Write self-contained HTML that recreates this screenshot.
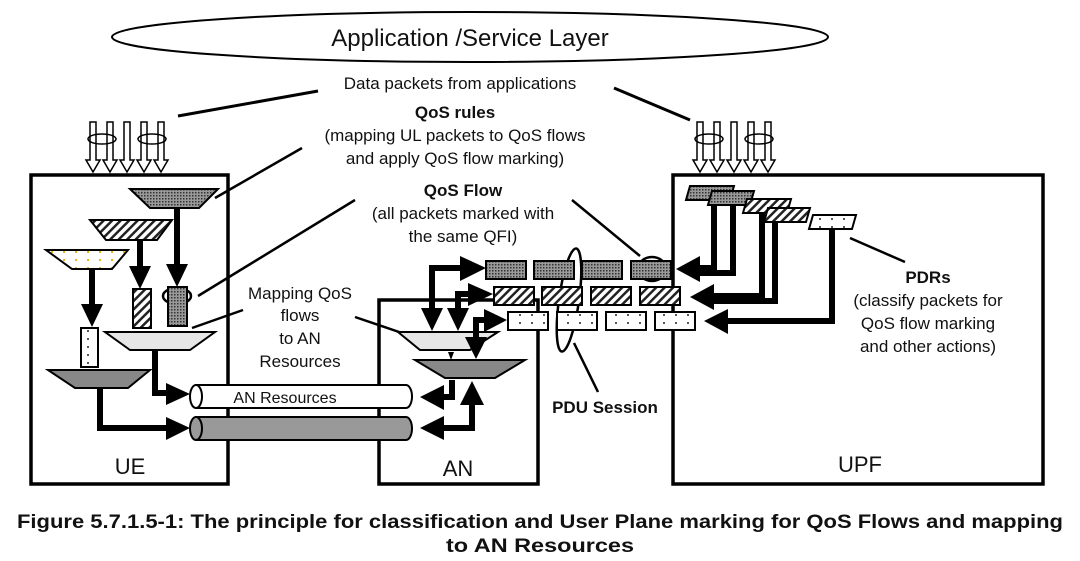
<!DOCTYPE html>
<html><head><meta charset="utf-8"><style>
html,body{margin:0;padding:0;background:#fff;}
svg{display:block;}
text{font-family:"Liberation Sans",sans-serif;fill:#111;}
</style></head><body>
<svg width="1080" height="561" viewBox="0 0 1080 561" xmlns="http://www.w3.org/2000/svg">
<defs>
<pattern id="dk" width="3" height="3" patternUnits="userSpaceOnUse"><rect width="3" height="3" fill="#999"/><rect width="1.5" height="1.5" fill="#333"/></pattern>
<pattern id="hz" width="6" height="6" patternUnits="userSpaceOnUse" patternTransform="rotate(45)"><rect width="6" height="6" fill="#fff"/><rect width="2.5" height="6" fill="#222"/></pattern>
<pattern id="dt" width="12" height="8" patternUnits="userSpaceOnUse"><rect width="12" height="8" fill="#fff"/><circle cx="4" cy="3" r="1" fill="#222"/></pattern>
<pattern id="dy" width="12" height="8" patternUnits="userSpaceOnUse"><rect width="12" height="8" fill="#fff"/><circle cx="4" cy="4" r="1.1" fill="#e0b000"/></pattern>
<marker id="ah" markerWidth="4" markerHeight="4" refX="2" refY="2" orient="auto" markerUnits="strokeWidth"><path d="M0,0 L4,2 L0,4 Z" fill="#000"/></marker>
<g id="bundle" fill="#fff" stroke="#000" stroke-width="1.5">
 <path d="M0,0 h6 v38 h4 l-7,12 l-7,-12 h4 z"/>
 <path d="M17,0 h6 v38 h4 l-7,12 l-7,-12 h4 z"/>
 <path d="M34,0 h6 v38 h4 l-7,12 l-7,-12 h4 z"/>
 <path d="M51,0 h6 v38 h4 l-7,12 l-7,-12 h4 z"/>
 <path d="M68,0 h6 v38 h4 l-7,12 l-7,-12 h4 z"/>
 <ellipse cx="12" cy="17" rx="14" ry="5" fill="none"/>
 <ellipse cx="62" cy="17" rx="14" ry="5" fill="none"/>
</g>
</defs>

<!-- top ellipse -->
<ellipse cx="470" cy="37" rx="358" ry="25" fill="#fff" stroke="#000" stroke-width="2"/>
<text x="470" y="46" font-size="24" text-anchor="middle">Application /Service Layer</text>
<text x="460" y="89" font-size="17" text-anchor="middle">Data packets from applications</text>
<line x1="318" y1="91" x2="178" y2="116" stroke="#000" stroke-width="3"/>
<line x1="614" y1="88" x2="690" y2="120" stroke="#000" stroke-width="3"/>

<use href="#bundle" x="90" y="122"/>
<use href="#bundle" x="697" y="122"/>

<!-- boxes -->
<rect x="31" y="175" width="197" height="309" fill="none" stroke="#000" stroke-width="3.5"/>
<rect x="379" y="300" width="159" height="184" fill="none" stroke="#000" stroke-width="3.5"/>
<rect x="673" y="175" width="370" height="309" fill="none" stroke="#000" stroke-width="3.5"/>

<text x="130" y="474" font-size="22" text-anchor="middle">UE</text>
<text x="458" y="476" font-size="22" text-anchor="middle">AN</text>
<text x="860" y="472" font-size="22" text-anchor="middle">UPF</text>

<!-- labels -->
<text x="455" y="118" font-size="17" font-weight="bold" text-anchor="middle">QoS rules</text>
<text x="455" y="141" font-size="17" text-anchor="middle">(mapping UL packets to QoS flows</text>
<text x="455" y="164" font-size="17" text-anchor="middle">and apply QoS flow marking)</text>
<text x="463" y="196" font-size="17" font-weight="bold" text-anchor="middle">QoS Flow</text>
<text x="463" y="219" font-size="17" text-anchor="middle">(all packets marked with</text>
<text x="463" y="242" font-size="17" text-anchor="middle">the same QFI)</text>
<text x="300" y="299" font-size="17" text-anchor="middle">Mapping QoS</text>
<text x="300" y="321" font-size="17" text-anchor="middle">flows</text>
<text x="300" y="344" font-size="17" text-anchor="middle">to AN</text>
<text x="300" y="367" font-size="17" text-anchor="middle">Resources</text>
<text x="928" y="283" font-size="17" font-weight="bold" text-anchor="middle">PDRs</text>
<text x="928" y="306" font-size="17" text-anchor="middle">(classify packets for</text>
<text x="928" y="329" font-size="17" text-anchor="middle">QoS flow marking</text>
<text x="928" y="352" font-size="17" text-anchor="middle">and other actions)</text>
<text x="605" y="413" font-size="17" font-weight="bold" text-anchor="middle">PDU Session</text>

<!-- leader lines -->
<g stroke="#000" stroke-width="2.5" fill="none">
<line x1="302" y1="148" x2="215" y2="198"/>
<line x1="355" y1="200" x2="198" y2="296"/>
<ellipse cx="177" cy="296" rx="14" ry="8"/>
<line x1="243" y1="310" x2="192" y2="328"/>
<line x1="355" y1="317" x2="402" y2="333"/>
<line x1="572" y1="200" x2="640" y2="256"/>
<ellipse cx="652" cy="269" rx="14" ry="12"/>
<ellipse cx="569" cy="300" rx="10" ry="52" transform="rotate(8 569 300)"/>
<line x1="574" y1="343" x2="598" y2="392"/>
<line x1="850" y1="238" x2="905" y2="262"/>
</g>

<!-- UE internals -->
<g stroke="#000" stroke-width="2">
<path d="M130,189 H218 L199,208 H150 Z" fill="url(#dk)"/>
<path d="M90,220 H172 L157,240 H106 Z" fill="url(#hz)"/>
<path d="M46,250 H128 L112,269 H72 Z" fill="url(#dy)"/>
<rect x="133" y="289" width="18" height="39" fill="url(#hz)"/>
<rect x="168" y="287" width="19" height="39" fill="url(#dk)"/>
<rect x="81" y="328" width="17" height="39" fill="url(#dt)"/>
<path d="M105,332 H215 L190,350 H130 Z" fill="#e6e6e6"/>
<path d="M48,370 H150 L128,388 H75 Z" fill="#888"/>
</g>
<g stroke="#000" stroke-width="6" fill="none">
<line x1="177" y1="208" x2="177" y2="268" />
<line x1="140" y1="240" x2="140" y2="270"/>
<line x1="92" y1="269" x2="92" y2="308"/>
<path d="M155,350 V393 H170"/>
<path d="M100,388 V428 H170"/>
</g>
<g fill="#000">
<path d="M166,264 H188 L177,287 Z"/>
<path d="M129,266 H151 L140,289 Z"/>
<path d="M81,304 H103 L92,327 Z"/>
<path d="M166,383 V405 L190,394 Z"/>
<path d="M166,417 V440 L190,428 Z"/>
</g>

<!-- tubes -->
<g stroke="#000" stroke-width="2">
<path d="M196,385 H406 A6,11.5 0 0 1 406,408 H196 Z" fill="#fff"/>
<ellipse cx="196" cy="396.5" rx="6" ry="11.5" fill="#fff"/>
<path d="M196,417 H406 A6,11.5 0 0 1 406,440 H196 Z" fill="#999"/>
<ellipse cx="196" cy="428.5" rx="6" ry="11.5" fill="#999"/>
</g>
<text x="285" y="403" font-size="16" text-anchor="middle">AN Resources</text>

<!-- AN internals -->
<g stroke="#000" stroke-width="2">
<path d="M398,332 H498 L470,350 H420 Z" fill="#e6e6e6"/>
<path d="M415,360 H525 L495,378 H445 Z" fill="#888"/>
</g>
<g stroke="#000" stroke-width="6" fill="none">
<path d="M432,312 V268 H462"/>
<path d="M458,312 V294 H470"/>
<path d="M476,340 V320 H486"/>
<path d="M452,380 V397 H440"/>
<path d="M472,400 V428 H440"/>
</g>
<g fill="#000">
<path d="M460,256 V281 L486,268 Z"/>
<path d="M468,283 V306 L493,294 Z"/>
<path d="M484,309 V332 L507,320 Z"/>
<path d="M421,308 H443 L432,331 Z"/>
<path d="M447,308 H469 L458,331 Z"/>
<path d="M465,337 H487 L476,359 Z"/>
<path d="M448,352 L454,352 L451,360 Z"/>
<path d="M444,385 V410 L420,397 Z"/>
<path d="M444,416 V440 L420,428 Z"/>
<path d="M460,405 H484 L472,381 Z"/>
</g>

<!-- packets -->
<g stroke="#000" stroke-width="2">
<rect x="486" y="261" width="40" height="18" fill="url(#dk)"/>
<rect x="534" y="261" width="40" height="18" fill="url(#dk)"/>
<rect x="582" y="261" width="40" height="18" fill="url(#dk)"/>
<rect x="631" y="261" width="40" height="18" fill="url(#dk)"/>
<rect x="494" y="287" width="40" height="18" fill="url(#hz)"/>
<rect x="542" y="287" width="40" height="18" fill="url(#hz)"/>
<rect x="591" y="287" width="40" height="18" fill="url(#hz)"/>
<rect x="640" y="287" width="40" height="18" fill="url(#hz)"/>
<rect x="508" y="312" width="40" height="18" fill="url(#dt)"/>
<rect x="557" y="312" width="40" height="18" fill="url(#dt)"/>
<rect x="606" y="312" width="40" height="18" fill="url(#dt)"/>
<rect x="655" y="312" width="40" height="18" fill="url(#dt)"/>
</g>

<!-- UPF internals -->
<g stroke="#000" stroke-width="6" fill="none">
<path d="M714,200 V268 H695"/>
<path d="M733,205 V273 H695"/>
<path d="M762,213 V296 H710"/>
<path d="M775,222 V301 H710"/>
<path d="M832,230 V321 H722"/>
</g>
<g stroke="#fff" stroke-width="4"><line x1="723" y1="205" x2="723" y2="264"/><line x1="768" y1="222" x2="768" y2="293"/></g>
<g fill="#000">
<path d="M700,256 V282 L676,269 Z"/>
<path d="M714,284 V310 L690,297 Z"/>
<path d="M728,309 V334 L704,321 Z"/>
</g>
<g stroke="#000" stroke-width="2">
<path d="M690,186 H734 L730,200 H686 Z" fill="url(#dk)"/>
<path d="M712,191 H754 L750,205 H708 Z" fill="url(#dk)"/>
<path d="M747,199 H791 L787,213 H743 Z" fill="url(#hz)"/>
<path d="M768,208 H810 L806,222 H764 Z" fill="url(#hz)"/>
<path d="M813,215 H856 L852,229 H809 Z" fill="url(#dt)"/>
</g>

<!-- caption -->
<text x="540" y="528" font-size="19" font-weight="bold" text-anchor="middle" textLength="1046" lengthAdjust="spacingAndGlyphs">Figure 5.7.1.5-1: The principle for classification and User Plane marking for QoS Flows and mapping</text>
<text x="540" y="552" font-size="19" font-weight="bold" text-anchor="middle" textLength="188" lengthAdjust="spacingAndGlyphs">to AN Resources</text>
</svg>
</body></html>
